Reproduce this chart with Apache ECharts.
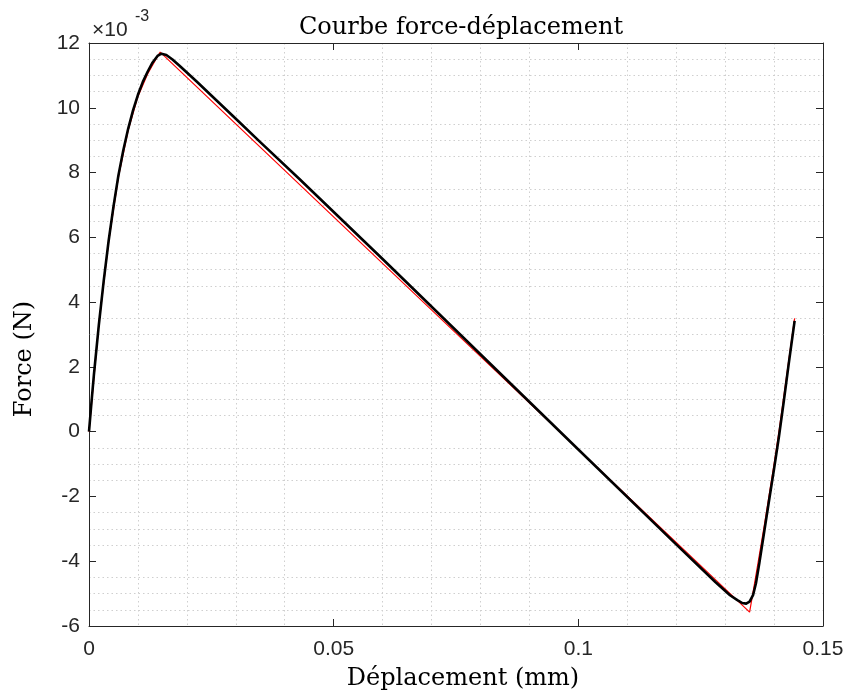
<!DOCTYPE html>
<html>
<head>
<meta charset="utf-8">
<script src="https://cdn.jsdelivr.net/npm/echarts@6/dist/echarts.min.js"></script>
<style>html,body{margin:0;padding:0;background:#fff;}#c{width:849px;height:698px;}</style>
</head>
<body>
<div id="c"></div>
<script>
// Displacement (mm) and force (×10^-3 N)
const experimentX = [0, 0.0005, 0.001, 0.002, 0.003, 0.004, 0.005, 0.006, 0.007, 0.008, 0.009, 0.010, 0.011, 0.012, 0.013, 0.014, 0.0148, 0.0158, 0.017, 0.0185, 0.020, 0.022, 0.025, 0.030, 0.035, 0.043, 0.060, 0.080, 0.100, 0.120, 0.128, 0.131, 0.1325, 0.1335, 0.1343, 0.135, 0.1357, 0.1363, 0.137, 0.138, 0.139, 0.140, 0.141, 0.142, 0.143, 0.1442];
const experimentY = [0, 0.9, 1.75, 3.28, 4.65, 5.88, 6.95, 7.9, 8.68, 9.35, 9.92, 10.4, 10.8, 11.12, 11.4, 11.6, 11.67, 11.63, 11.5, 11.3, 11.09, 10.81, 10.38, 9.66, 8.94, 7.8, 5.33, 2.39, -0.55, -3.48, -4.64, -5.05, -5.2, -5.29, -5.31, -5.25, -5.05, -4.68, -4.05, -3.08, -2.1, -1.15, -0.15, 0.95, 2.1, 3.42];
const modelX = [0, 0.002, 0.004, 0.006, 0.008, 0.010, 0.012, 0.0135, 0.01455, 0.135, 0.136, 0.137, 0.138, 0.139, 0.140, 0.141, 0.142, 0.143, 0.1442];
const modelY = [0, 3.3, 5.85, 7.85, 9.3, 10.35, 11.05, 11.45, 11.72, -5.57, -4.7, -3.8, -2.9, -1.95, -1.0, 0.0, 1.1, 2.2, 3.5];
const xTickLabels = ['0', '0.05', '0.1', '0.15'];
const yTickLabels = ['-6', '-4', '-2', '0', '2', '4', '6', '8', '10', '12'];
const titleText = 'Courbe force-déplacement';
const xLabelText = 'Déplacement (mm)';
const yLabelText = 'Force (N)';

const pair = (xs, ys) => xs.map((x, i) => [x, ys[i]]);
const axisColor = '#262626';
const tickFont = {fontFamily: 'Liberation Sans', fontSize: 21, color: axisColor};
const minorGrid = {show: true, lineStyle: {color: '#cfcfcf', width: 1, type: [1.5, 3]}};

const chart = echarts.init(document.getElementById('c'), null, {renderer: 'canvas'});
chart.setOption({
  animation: false,
  backgroundColor: '#fff',
  grid: {left: 89, top: 43, width: 734, height: 583, containLabel: false},
  xAxis: [{
    type: 'value', position: 'bottom', min: 0, max: 0.15, interval: 0.05,
    axisLine: {show: true, onZero: false, lineStyle: {color: axisColor, width: 1}},
    axisTick: {show: true, inside: true, length: 7, lineStyle: {color: axisColor}},
    axisLabel: Object.assign({margin: 13, formatter: v => xTickLabels[Math.round(v / 0.05)]}, tickFont),
    splitLine: {show: false},
    minorTick: {show: false, splitNumber: 5},
    minorSplitLine: minorGrid
  }, {
    type: 'value', position: 'top', min: 0, max: 0.15, interval: 0.05,
    axisLine: {show: true, onZero: false, lineStyle: {color: axisColor, width: 1}},
    axisTick: {show: true, inside: true, length: 7, lineStyle: {color: axisColor}},
    axisLabel: {show: false}, splitLine: {show: false}
  }],
  yAxis: [{
    type: 'value', position: 'left', min: -6, max: 12, interval: 2,
    axisLine: {show: true, onZero: false, lineStyle: {color: axisColor, width: 1}},
    axisTick: {show: true, inside: true, length: 7, lineStyle: {color: axisColor}},
    axisLabel: Object.assign({margin: 9, formatter: v => yTickLabels[Math.round((v + 6) / 2)]}, tickFont),
    splitLine: {show: false},
    minorTick: {show: false, splitNumber: 4},
    minorSplitLine: minorGrid
  }, {
    type: 'value', position: 'right', min: -6, max: 12, interval: 2,
    axisLine: {show: true, onZero: false, lineStyle: {color: axisColor, width: 1}},
    axisTick: {show: true, inside: true, length: 7, lineStyle: {color: axisColor}},
    axisLabel: {show: false}, splitLine: {show: false}
  }],
  series: [{
    type: 'line', name: 'model', data: pair(modelX, modelY), showSymbol: false,
    lineStyle: {color: '#ff0000', width: 1.2}, z: 3
  }, {
    type: 'line', name: 'experiment', data: pair(experimentX, experimentY), showSymbol: false,
    lineStyle: {color: '#000000', width: 2.6, join: 'round'}, z: 4
  }],
  graphic: [
    {type: 'text', x: 461, y: 28, style: {text: titleText, font: '24px "DejaVu Serif"', fill: '#000', textAlign: 'center', textVerticalAlign: 'middle'}},
    {type: 'text', x: 463, y: 679, style: {text: xLabelText, font: '24px "DejaVu Serif"', fill: '#000', textAlign: 'center', textVerticalAlign: 'middle'}},
    {type: 'text', x: 25, y: 359, rotation: Math.PI / 2, style: {text: yLabelText, font: '24px "DejaVu Serif"', fill: '#000', textAlign: 'center', textVerticalAlign: 'middle'}},
    {type: 'text', x: 92, y: 30, style: {text: '×10', font: '21px "Liberation Sans"', fill: axisColor, textAlign: 'left', textVerticalAlign: 'middle'}},
    {type: 'text', x: 135, y: 17, style: {text: '-3', font: '16px "Liberation Sans"', fill: axisColor, textAlign: 'left', textVerticalAlign: 'middle'}}
  ]
});
</script>
</body>
</html>
